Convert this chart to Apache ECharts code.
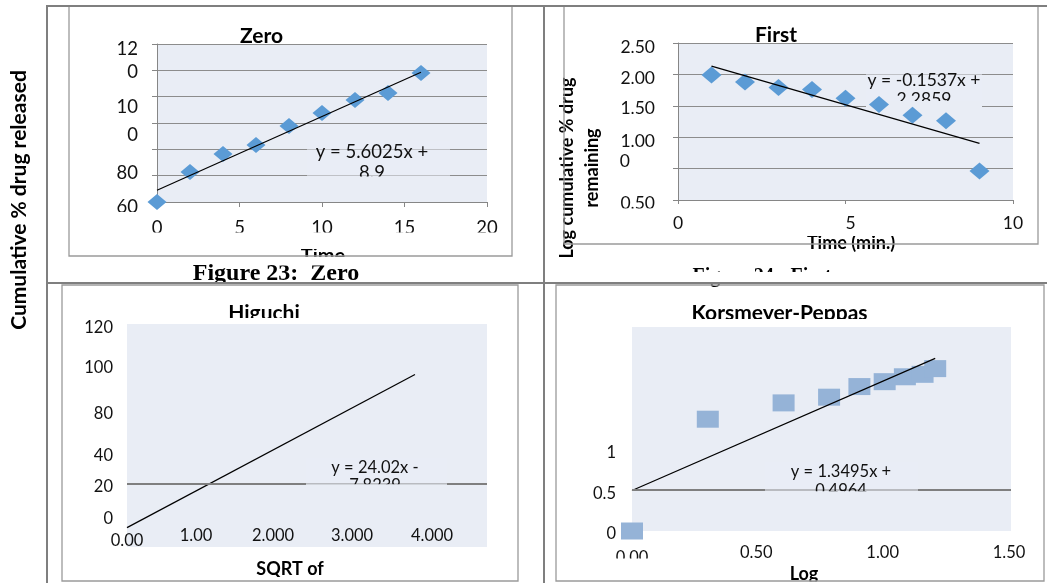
<!DOCTYPE html>
<html>
<head>
<meta charset="utf-8">
<script src="https://cdn.jsdelivr.net/npm/echarts@6/dist/echarts.min.js"></script>
<style>
  html, body { margin: 0; padding: 0; background: #fff; }
  #c { width: 1047px; height: 583px; }
</style>
</head>
<body>
<div id="c"></div>
<script>
// Drug release kinetics: zero order, first order, Higuchi and Korsmeyer-Peppas fits.

// ---- Zero order: time (min.) vs cumulative % drug released
const zeroTime = [0, 2, 4, 6, 8, 10, 12, 14, 16];
const zeroReleased = [0, 22.8, 36.4, 43.3, 57.7, 67.6, 77.5, 82.8, 97.9];
const zeroFit = { slope: 5.6025, intercept: 8.9 };
const zeroXTickLabels = ['0', '5', '10', '15', '20'];
const zeroYTickLabels = ['60', '80', '', '0', '10', '0', '12'];

// ---- First order: time (min.) vs log cumulative % drug remaining
const firstTime = [1, 2, 3, 4, 5, 6, 7, 8, 9];
const firstLogRemaining = [1.99, 1.88, 1.79, 1.76, 1.62, 1.52, 1.35, 1.26, 0.46];
const firstFit = { slope: -0.1537, intercept: 2.2859 };
const firstXTickLabels = ['0', '5', '10'];
const firstYTickLabels = ['0.50', '0', '1.00', '1.50', '2.00', '2.50'];

// ---- Higuchi: only the fitted line is plotted
const higuchiFitRange = [0, 4];
const higuchiFit = { slope: 24.02, intercept: -7.8239 };
const higuchiRefLine = 20;
const higuchiXTickLabels = ['0.00', '1.00', '2.000', '3.000', '4.000', ''];
const higuchiYTickLabels = ['', '0', '20', '40', '', '80', '100', '120'];

// ---- Korsmeyer-Peppas: log time vs log cumulative % released
const kpLogTime = [0, 0.30, 0.60, 0.78, 0.90, 1.00, 1.08, 1.15, 1.20];
const kpLogReleased = [0, 1.37, 1.57, 1.64, 1.77, 1.83, 1.89, 1.92, 1.99];
const kpFit = { slope: 1.3495, intercept: 0.4964 };
const kpRefLine = 0.5;
const kpXTickLabels = ['0.00', '0.50', '1.00', '1.50'];
const kpYTickLabels = ['0', '0.5', '1', '', '', ''];

// ---- styling
const plotBg = '#E9EDF5';
const gridGray = '#8c8c8c';
const axisGray = '#868686';
const refGray = '#7f7f7f';
const tableGray = '#7f7f7f';
const boxGray = '#9a9a9a';
const ink = '#111';
const sans = 'Lato';
const serif = '"Liberation Serif", "DejaVu Serif", serif';

function fitLine(fit, xs) {
  const x0 = Math.min(...xs), x1 = Math.max(...xs);
  return [[x0, fit.slope * x0 + fit.intercept], [x1, fit.slope * x1 + fit.intercept]];
}
function fitText(fit) {
  const sign = fit.intercept < 0 ? '-' : '+';
  return 'y = ' + fit.slope + 'x ' + sign + '\n' + Math.abs(fit.intercept);
}
function zip(a, b) { return a.map((v, i) => [v, b[i]]); }

// Tick label text with small per-label nudges (dx, dy in px).
function tickLabels(labels, min, step, size, margin, shifts, mode, key) {
  const font = { fontSize: size, fontFamily: sans, color: ink };
  const rich = {};
  (shifts || []).forEach((s, i) => {
    if (!s) return;
    const dx = s[0], dy = s[1];
    const p = [0, 0, 0, 0];
    if (mode === 'y') {
      if (dy > 0) p[0] = 2 * dy; else p[2] = -2 * dy;
      if (dx < 0) p[1] = -dx;
    } else {
      if (dy > 0) p[0] = dy;
      if (dx > 0) p[3] = 2 * dx; else p[1] = -2 * dx;
    }
    rich[key + i] = Object.assign({ padding: p }, font);
  });
  return Object.assign({}, font, {
    margin: margin,
    rich: rich,
    formatter: function (v) {
      const i = Math.round((v - min) / step);
      if (Math.abs(min + i * step - v) > step * 1e-6) return '';
      const t = labels[i];
      if (!t) return '';
      return rich[key + i] ? '{' + key + i + '|' + t + '}' : t;
    }
  });
}

const zeroYShift = [[0, 5], [0, -3], null, [0, 12], [0, 10], [0, 1.5], [0, 5.5]];
const firstYShift = [[0, 3], [-25, -7], [0, 4], [0, 3], [0, 4], [0, 4]];
const firstXShift = [null, [5, 0], null];
const higuchiYShift = [null, [0, 4], [0, 3.5], [0, 4], null, [0, 26], [0, 11.5], [0, 3.5]];
const higuchiXShift = [[0, 5], [-3, 0], [2, 0], [9, 0], [17, 0], null];
const kpYShift = [[0, 3], [0, 3], [0, 3]];
const kpXShift = [[0, 5], [-2, 0], [-2, 0], [-2, 0]];

const line = (c, w) => ({ color: c, width: w });
const hiddenLine = { show: false, onZero: false };

function grid(left, top, width, height) {
  return { left, top, width, height, show: true, backgroundColor: plotBg,
           borderWidth: 0, borderColor: 'transparent', containLabel: false, outerBoundsMode: 'none' };
}

const xAxes = [
  { gridIndex: 0, type: 'value', min: 0, max: 20, interval: 5,
    axisLine: { show: true, lineStyle: line(axisGray, 1) },
    axisTick: { show: true, length: 5, lineStyle: line(axisGray, 1) },
    splitLine: { show: false },
    axisLabel: tickLabels(zeroXTickLabels, 0, 5, 18.5, 17, null, 'x', 'zx') },
  { gridIndex: 1, type: 'value', min: 0, max: 10, interval: 5,
    axisLine: { show: true, lineStyle: line(axisGray, 1) },
    axisTick: { show: true, length: 4, lineStyle: line(axisGray, 1) },
    splitLine: { show: false },
    axisLabel: tickLabels(firstXTickLabels, 0, 5, 17.5, 14, firstXShift, 'x', 'fx') },
  // labels sit just under the zero level of the -20..120 scale
  { gridIndex: 2, type: 'value', min: 0, max: 5, interval: 1,
    axisLine: hiddenLine, axisTick: { show: false }, splitLine: { show: false },
    axisLabel: tickLabels(higuchiXTickLabels, 0, 1, 16.5, -20, higuchiXShift, 'x', 'hx') },
  { gridIndex: 3, type: 'value', min: 0, max: 1.5, interval: 0.5,
    axisLine: hiddenLine, axisTick: { show: false }, splitLine: { show: false },
    axisLabel: tickLabels(kpXTickLabels, 0, 0.5, 16.5, 13, kpXShift, 'x', 'kx') }
];

const yAxes = [
  { gridIndex: 0, type: 'value', min: 0, max: 120, interval: 20,
    axisLine: { show: true, lineStyle: line(axisGray, 1) },
    axisTick: { show: true, length: 5, lineStyle: line(axisGray, 1) },
    splitLine: { show: true, lineStyle: line(gridGray, 1) },
    axisLabel: tickLabels(zeroYTickLabels, 0, 20, 18.5, 19, zeroYShift, 'y', 'zy') },
  { gridIndex: 1, type: 'value', min: 0, max: 2.5, interval: 0.5,
    axisLine: { show: true, lineStyle: line(axisGray, 1) },
    axisTick: { show: true, length: 5, lineStyle: line(axisGray, 1) },
    splitLine: { show: true, lineStyle: line(gridGray, 1) },
    axisLabel: tickLabels(firstYTickLabels, 0, 0.5, 17.5, 23, firstYShift, 'y', 'fy') },
  { gridIndex: 2, type: 'value', min: -20, max: 120, interval: 20,
    axisLine: { show: false, onZero: false }, axisTick: { show: false }, splitLine: { show: false },
    axisLabel: tickLabels(higuchiYTickLabels, -20, 20, 16.5, 14, higuchiYShift, 'y', 'hy') },
  { gridIndex: 3, type: 'value', min: 0, max: 2.5, interval: 0.5,
    axisLine: { show: false, onZero: false }, axisTick: { show: false }, splitLine: { show: false },
    axisLabel: tickLabels(kpYTickLabels, 0, 0.5, 16.5, 16, kpYShift, 'y', 'ky') }
];

function trend(idx, data, refY) {
  const s = { type: 'line', xAxisIndex: idx, yAxisIndex: idx, data: data,
              symbol: 'none', showSymbol: false, silent: true, z: 3,
              lineStyle: { color: '#000', width: 1.2 } };
  if (refY != null) {
    s.markLine = { silent: true, symbol: ['none', 'none'], label: { show: false },
                   lineStyle: { color: refGray, width: 2, type: 'solid' },
                   emphasis: { disabled: true }, data: [{ yAxis: refY }] };
  }
  return s;
}

const series = [
  { type: 'scatter', xAxisIndex: 0, yAxisIndex: 0, data: zip(zeroTime, zeroReleased),
    symbol: 'diamond', symbolSize: [19, 16], itemStyle: { color: '#5B9BD5', opacity: 1 }, silent: true },
  trend(0, fitLine(zeroFit, zeroTime)),
  { type: 'scatter', xAxisIndex: 1, yAxisIndex: 1, data: zip(firstTime, firstLogRemaining),
    symbol: 'diamond', symbolSize: [20, 17], itemStyle: { color: '#5B9BD5', opacity: 1 }, silent: true },
  trend(1, fitLine(firstFit, firstTime)),
  trend(2, fitLine(higuchiFit, higuchiFitRange), higuchiRefLine),
  { type: 'scatter', xAxisIndex: 3, yAxisIndex: 3, data: zip(kpLogTime, kpLogReleased),
    symbol: 'rect', symbolSize: [22, 17], itemStyle: { color: '#95B3D7', opacity: 1 }, silent: true },
  trend(3, fitLine(kpFit, kpLogTime), kpRefLine)
];

// ---- decorations: text, equation boxes, clipping strips and the table frame
function txt(text, x, y, font, opts) {
  const o = opts || {};
  return { type: 'text', x: x, y: y, rotation: o.rotation || 0, silent: true,
           z: o.z != null ? o.z : 10, z2: o.z2 || 0,
           style: { text: text, x: 0, y: 0, font: font, fill: o.fill || '#000',
                    align: o.align || 'center', textAlign: o.align || 'center',
                    verticalAlign: o.valign || 'middle', textVerticalAlign: o.valign || 'middle',
                    lineHeight: o.lineHeight } };
}
function rect(x0, y0, x1, y1, fill, z, z2, opacity) {
  return { type: 'rect', silent: true, z: z, z2: z2 || 0,
           shape: { x: x0, y: y0, width: x1 - x0, height: y1 - y0 },
           style: { fill: fill, opacity: opacity == null ? 1 : opacity } };
}
function seg(x0, y0, x1, y1, color, w) {
  return { type: 'line', silent: true, z: 100,
           shape: { x1: x0, y1: y0, x2: x1, y2: y1 }, style: { stroke: color, lineWidth: w } };
}
function frame(x, y, w, h) {
  return { type: 'rect', silent: true, z: 100, shape: { x: x, y: y, width: w, height: h },
           style: { fill: 'none', stroke: boxGray, lineWidth: 1.3 } };
}
function equation(fit, cx, top, size, lh, box, cutY, z) {
  return [
    rect(box[0], box[1], box[2], cutY, plotBg, z, 0, 0.55),
    txt(fitText(fit), cx, top, size + 'px ' + sans, { valign: 'top', lineHeight: lh, z: z, z2: 1, fill: ink }),
    rect(box[0], cutY, box[2], cutY + 9, plotBg, z, 2)
  ];
}

const titleFont = 'bold 21px ' + sans;
const nameFont = 'bold 18px ' + sans;
const white = '#fff';

const graphics = [].concat(
  // chart titles
  txt('Zero', 261.5, 35.9, titleFont),
  txt('First', 776, 35.2, titleFont),
  txt('Higuchi', 264, 313.6, titleFont),
  txt('Korsmeyer-Peppas', 779.5, 313.6, titleFont),
  // axis names
  txt('Time', 323, 256.6, 'bold 20px ' + sans),
  txt('Time (min.)', 851, 243.4, nameFont),
  txt('SQRT of', 290, 569.2, nameFont),
  txt('Log', 804, 573.9, nameFont),
  txt('Cumulative % drug released', 19, 200, 'bold 21px ' + sans, { rotation: Math.PI / 2 }),
  txt('Log cumulative % drug\nremaining', 580, 168, nameFont, { rotation: Math.PI / 2, lineHeight: 25 }),
  // figure captions
  txt('Figure 23:  Zero', 276, 273.9, 'bold 24px ' + serif),
  txt('Figure 24:  First', 762, 277, 'bold 20px ' + serif),
  // fitted equations
  equation(zeroFit, 372, 142, 18.5, 21, [307, 141, 450], 176.5, 1),
  equation(firstFit, 924, 71, 17.5, 19, [866, 70, 982], 101, 1),
  equation(higuchiFit, 375, 458.5, 16.5, 18, [306, 458, 447], 484.3, 6),
  equation(kpFit, 841, 462, 16.5, 19, [765, 462, 918], 491.3, 6),
  // strips where the printed page trims text
  rect(100, 232.5, 510, 249, white, 10, 1),
  rect(110, 212, 150, 219, white, 10, 1),
  rect(280, 257, 370, 265.5, white, 10, 1),
  rect(140, 284, 420, 300, white, 10, 1),
  rect(640, 229, 1036, 236, white, 10, 1),
  rect(600, 208.5, 662, 215, white, 10, 1),
  rect(660, 272, 870, 282, white, 10, 1),
  rect(215, 318, 315, 323.9, white, 10, 1),
  rect(240, 577, 340, 580.3, white, 10, 1),
  rect(680, 319, 880, 326.9, white, 10, 1),
  rect(600, 558.5, 1040, 566, white, 10, 1),
  rect(780, 581.6, 830, 583, white, 10, 1),
  // chart area frames
  frame(69, 6, 443, 250),
  frame(564, 6, 474, 238),
  frame(62, 285, 456, 296),
  frame(556, 285, 488, 296),
  // table rules
  seg(47, 6, 1047, 6, tableGray, 2),
  seg(47, 5, 47, 583, tableGray, 2),
  seg(544, 5, 544, 583, tableGray, 2),
  seg(47, 283, 1047, 283, tableGray, 2)
);

const chart = echarts.init(document.getElementById('c'), null, { renderer: 'canvas', width: 1047, height: 583 });
chart.setOption({
  animation: false,
  backgroundColor: '#fff',
  grid: [grid(157, 44, 330, 158), grid(678, 43, 335, 157), grid(127, 324, 360, 223), grid(632, 327, 379, 204)],
  xAxis: xAxes,
  yAxis: yAxes,
  series: series,
  graphic: { elements: graphics }
});
</script>
</body>
</html>
